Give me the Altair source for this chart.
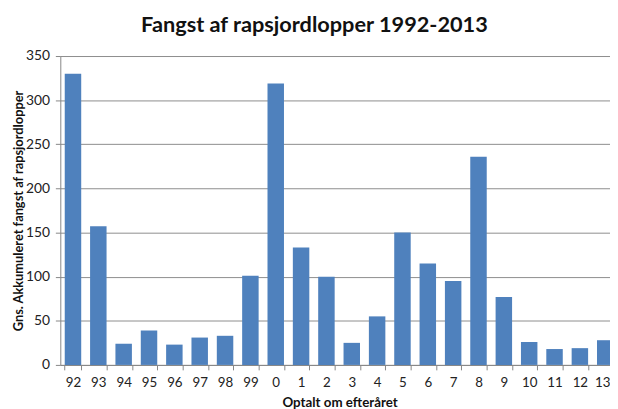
import altair as alt
import pandas as pd

years = ["92", "93", "94", "95", "96", "97", "98", "99", "0", "1", "2",
         "3", "4", "5", "6", "7", "8", "9", "10", "11", "12", "13"]
catch = [330, 157, 24, 39, 23, 31, 33, 101, 319, 133, 100,
         25, 55, 150, 115, 95, 236, 77, 26, 18, 19, 28]

df = pd.DataFrame({"year": years, "value": catch})

FONT = "Lato"

chart = alt.Chart(df).mark_bar(color="#4F81BD").encode(
    x=alt.X("year:N", sort=years,
            scale=alt.Scale(range=[0, 565], paddingInner=0.35, paddingOuter=0.175),
            axis=alt.Axis(title="Optalt om efteråret", labelAngle=0, tickBand="extent",
                          grid=False, domainColor="#868686", tickColor="#868686",
                          tickSize=5, labelPadding=6, labelFontSize=13.5, labelColor="#222",
                          labelOffset=alt.expr("datum.label == '13' ? -3 : 0"),
                          labelFont=FONT, titleFont=FONT, titleFontSize=13.5,
                          titleFontWeight="bold", titleColor="#111",
                          titleX=283, titleY=38, titleBaseline="middle")),
    y=alt.Y("value:Q", scale=alt.Scale(domain=[0, 350], nice=False),
            axis=alt.Axis(title="Gns. Akkumuleret fangst af rapsjordlopper",
                          values=[0, 50, 100, 150, 200, 250, 300, 350],
                          gridColor="#8c8c8c", domainColor="#868686", tickColor="#868686",
                          tickSize=5, labelPadding=6, labelFontSize=14, labelColor="#222",
                          labelFont=FONT, titleFont=FONT, titleFontSize=13,
                          titleFontWeight="bold", titleColor="#111",
                          titleX=-35, titleY=156.5, titleAngle=-90,
                          titleBaseline="bottom")),
).properties(
    width=557, height=313,
    title=alt.TitleParams("Fangst af rapsjordlopper 1992-2013", font=FONT,
                          fontSize=22, fontWeight="bold", color="#111",
                          anchor="middle", dx=-21, offset=12),
    autosize=alt.AutoSizeParams(type="none"),
    padding={"left": 53, "top": 46, "right": 0, "bottom": 42},
).configure_view(stroke=None)

chart.save("out.html", embed_options={"renderer": "svg", "actions": False})
